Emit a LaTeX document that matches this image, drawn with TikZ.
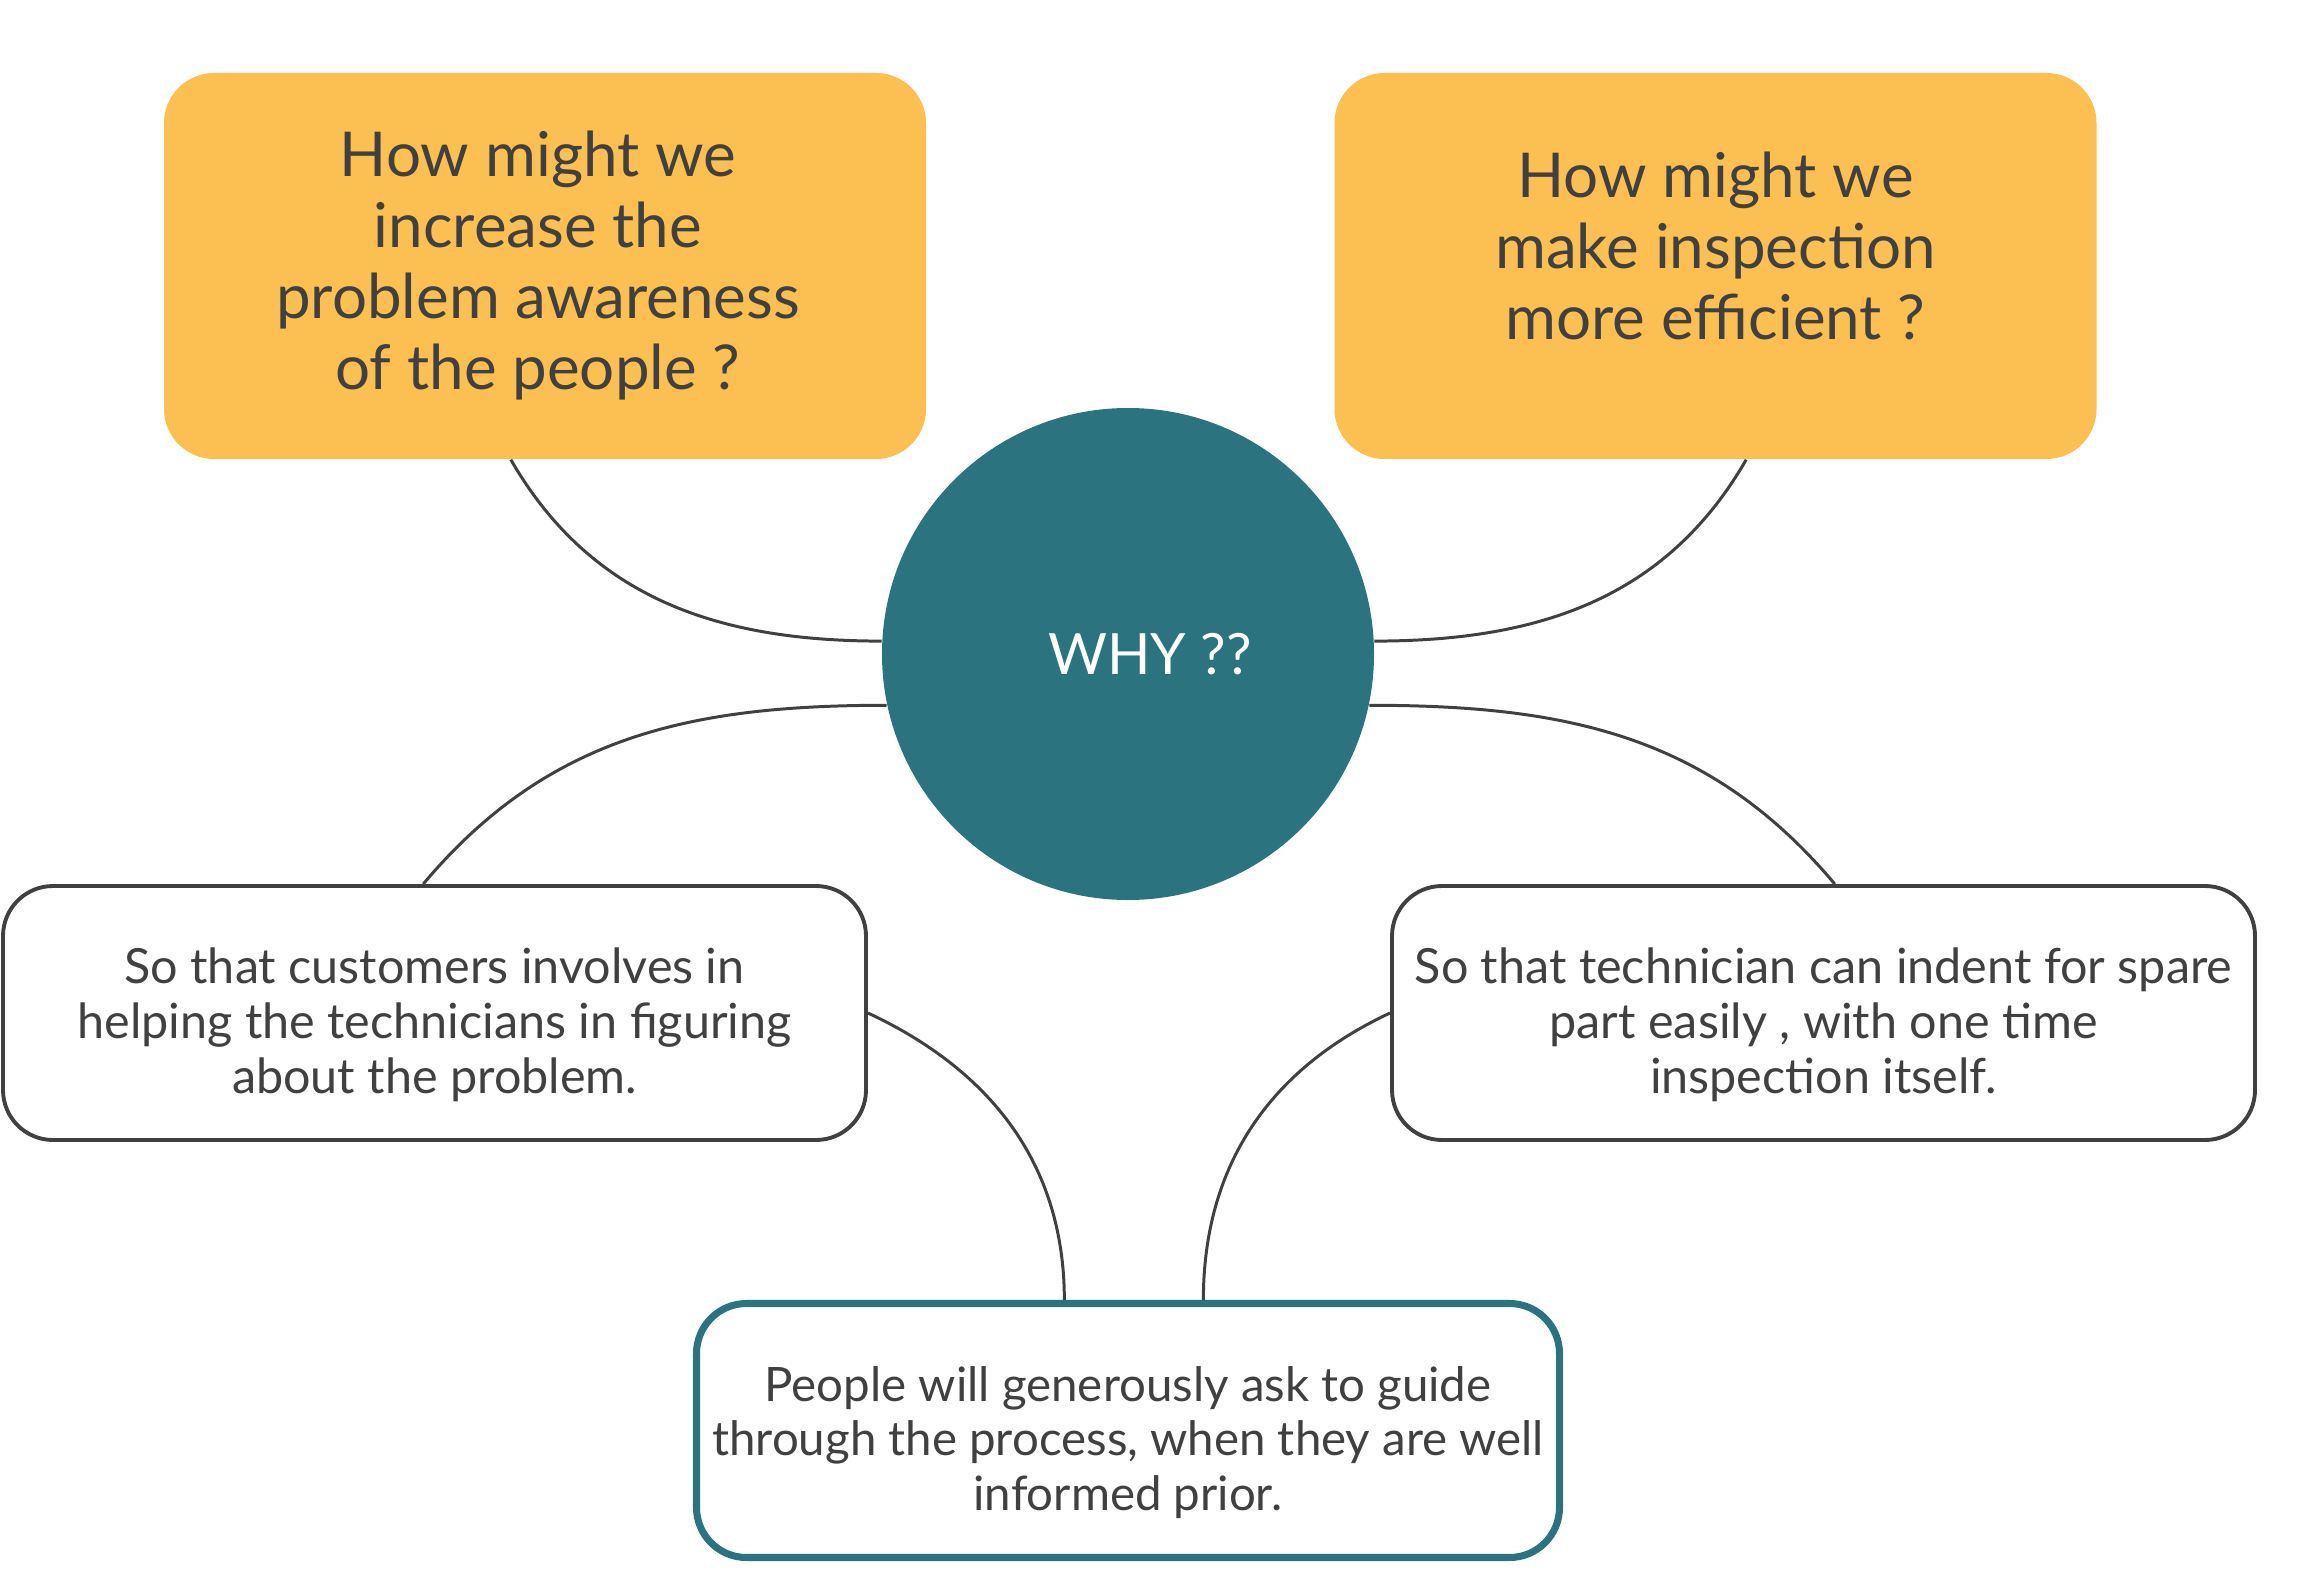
\documentclass[tikz,border=0pt]{standalone}
\usepackage{fontspec}
\setmainfont{Lato}
\usepackage{xcolor}
\usetikzlibrary{positioning,calc}
\definecolor{hmworange}{HTML}{FBBF52}
\definecolor{whyteal}{HTML}{2A737F}
\definecolor{inkgray}{HTML}{404040}
\tikzset{
  hmwbox/.style={rectangle, rounded corners=5mm, fill=hmworange,
    minimum width=7.62cm, minimum height=3.86cm},
  hmwtext/.style={text=inkgray, align=center, font=\fontsize{17.6}{20.2}\selectfont},
  whycircle/.style={circle, fill=whyteal, minimum size=4.92cm},
  whytext/.style={text=white, font=\fontsize{16.2}{19}\selectfont},
  reasonbox/.style={rectangle, rounded corners=5mm, draw=inkgray, line width=1.1pt,
    fill=white, minimum width=8.63cm, minimum height=2.54cm},
  reasontext/.style={text=inkgray, align=center, font=\fontsize{13.8}{15.6}\selectfont},
  resultbox/.style={reasonbox, draw=whyteal, line width=2pt},
  link/.style={draw=inkgray, line width=0.85pt}
}

\begin{document}
\begin{tikzpicture}
    \useasboundingbox (0,0) rectangle (23.01,15.78);
    % questions and centre
    \node[hmwbox] (hmwleft) at (5.45,13.12) {};
    \node[hmwtext] (hmwlefttext) at ([xshift=-0.7mm]hmwleft.center) {How might we\\increase the\\problem awareness\\of the people ?};
    \node[hmwbox] (hmwright) at (17.155,13.12) {};
    \node[hmwtext] (hmwrighttext) at ([yshift=2mm]hmwright.center) {How might we\\make inspection\\more efficient ?};
    \node[whycircle] (why) at (11.28,9.24) {};
    \node[whytext] (whytxt) at ([xshift=2.2mm]why.center) {WHY ??};
    % reasons
    \node[reasonbox] (custbox) at (4.345,5.65) {};
    \node[reasontext] (custtext) at ([yshift=-1.2mm]custbox.center) {So that customers involves in\\helping the technicians in figuring\\about the problem.};
    \node[reasonbox] (techbox) at (18.235,5.65) {};
    \node[reasontext] (techtext) at ([yshift=-1.2mm]techbox.center) {So that technician can indent for spare\\part easily , with one time\\inspection itself.};
    \node[resultbox] (peoplebox) at (11.28,1.475) {};
    \node[reasontext, font=\fontsize{13.5}{15.6}\selectfont] (peopletext) at ([yshift=-1.2mm]peoplebox.center) {People will generously ask to guide\\through the process, when they are well\\informed prior.};
    % connectors
    \draw[link] (hmwleft.260) to[out=-60, in=180] (why.177);
    \draw[link] (hmwright.279) to[out=-120, in=0] (why.3);
    \draw[link] (custbox.95) to[out=50, in=180] (why.192);
    \draw[link] (techbox.85) to[out=130, in=0] (why.-12);
    \draw[link] (custbox.east) to[out=-25, in=90] (peoplebox.116);
    \draw[link] (techbox.west) to[out=205, in=90] (peoplebox.60);
\end{tikzpicture}
\end{document}
